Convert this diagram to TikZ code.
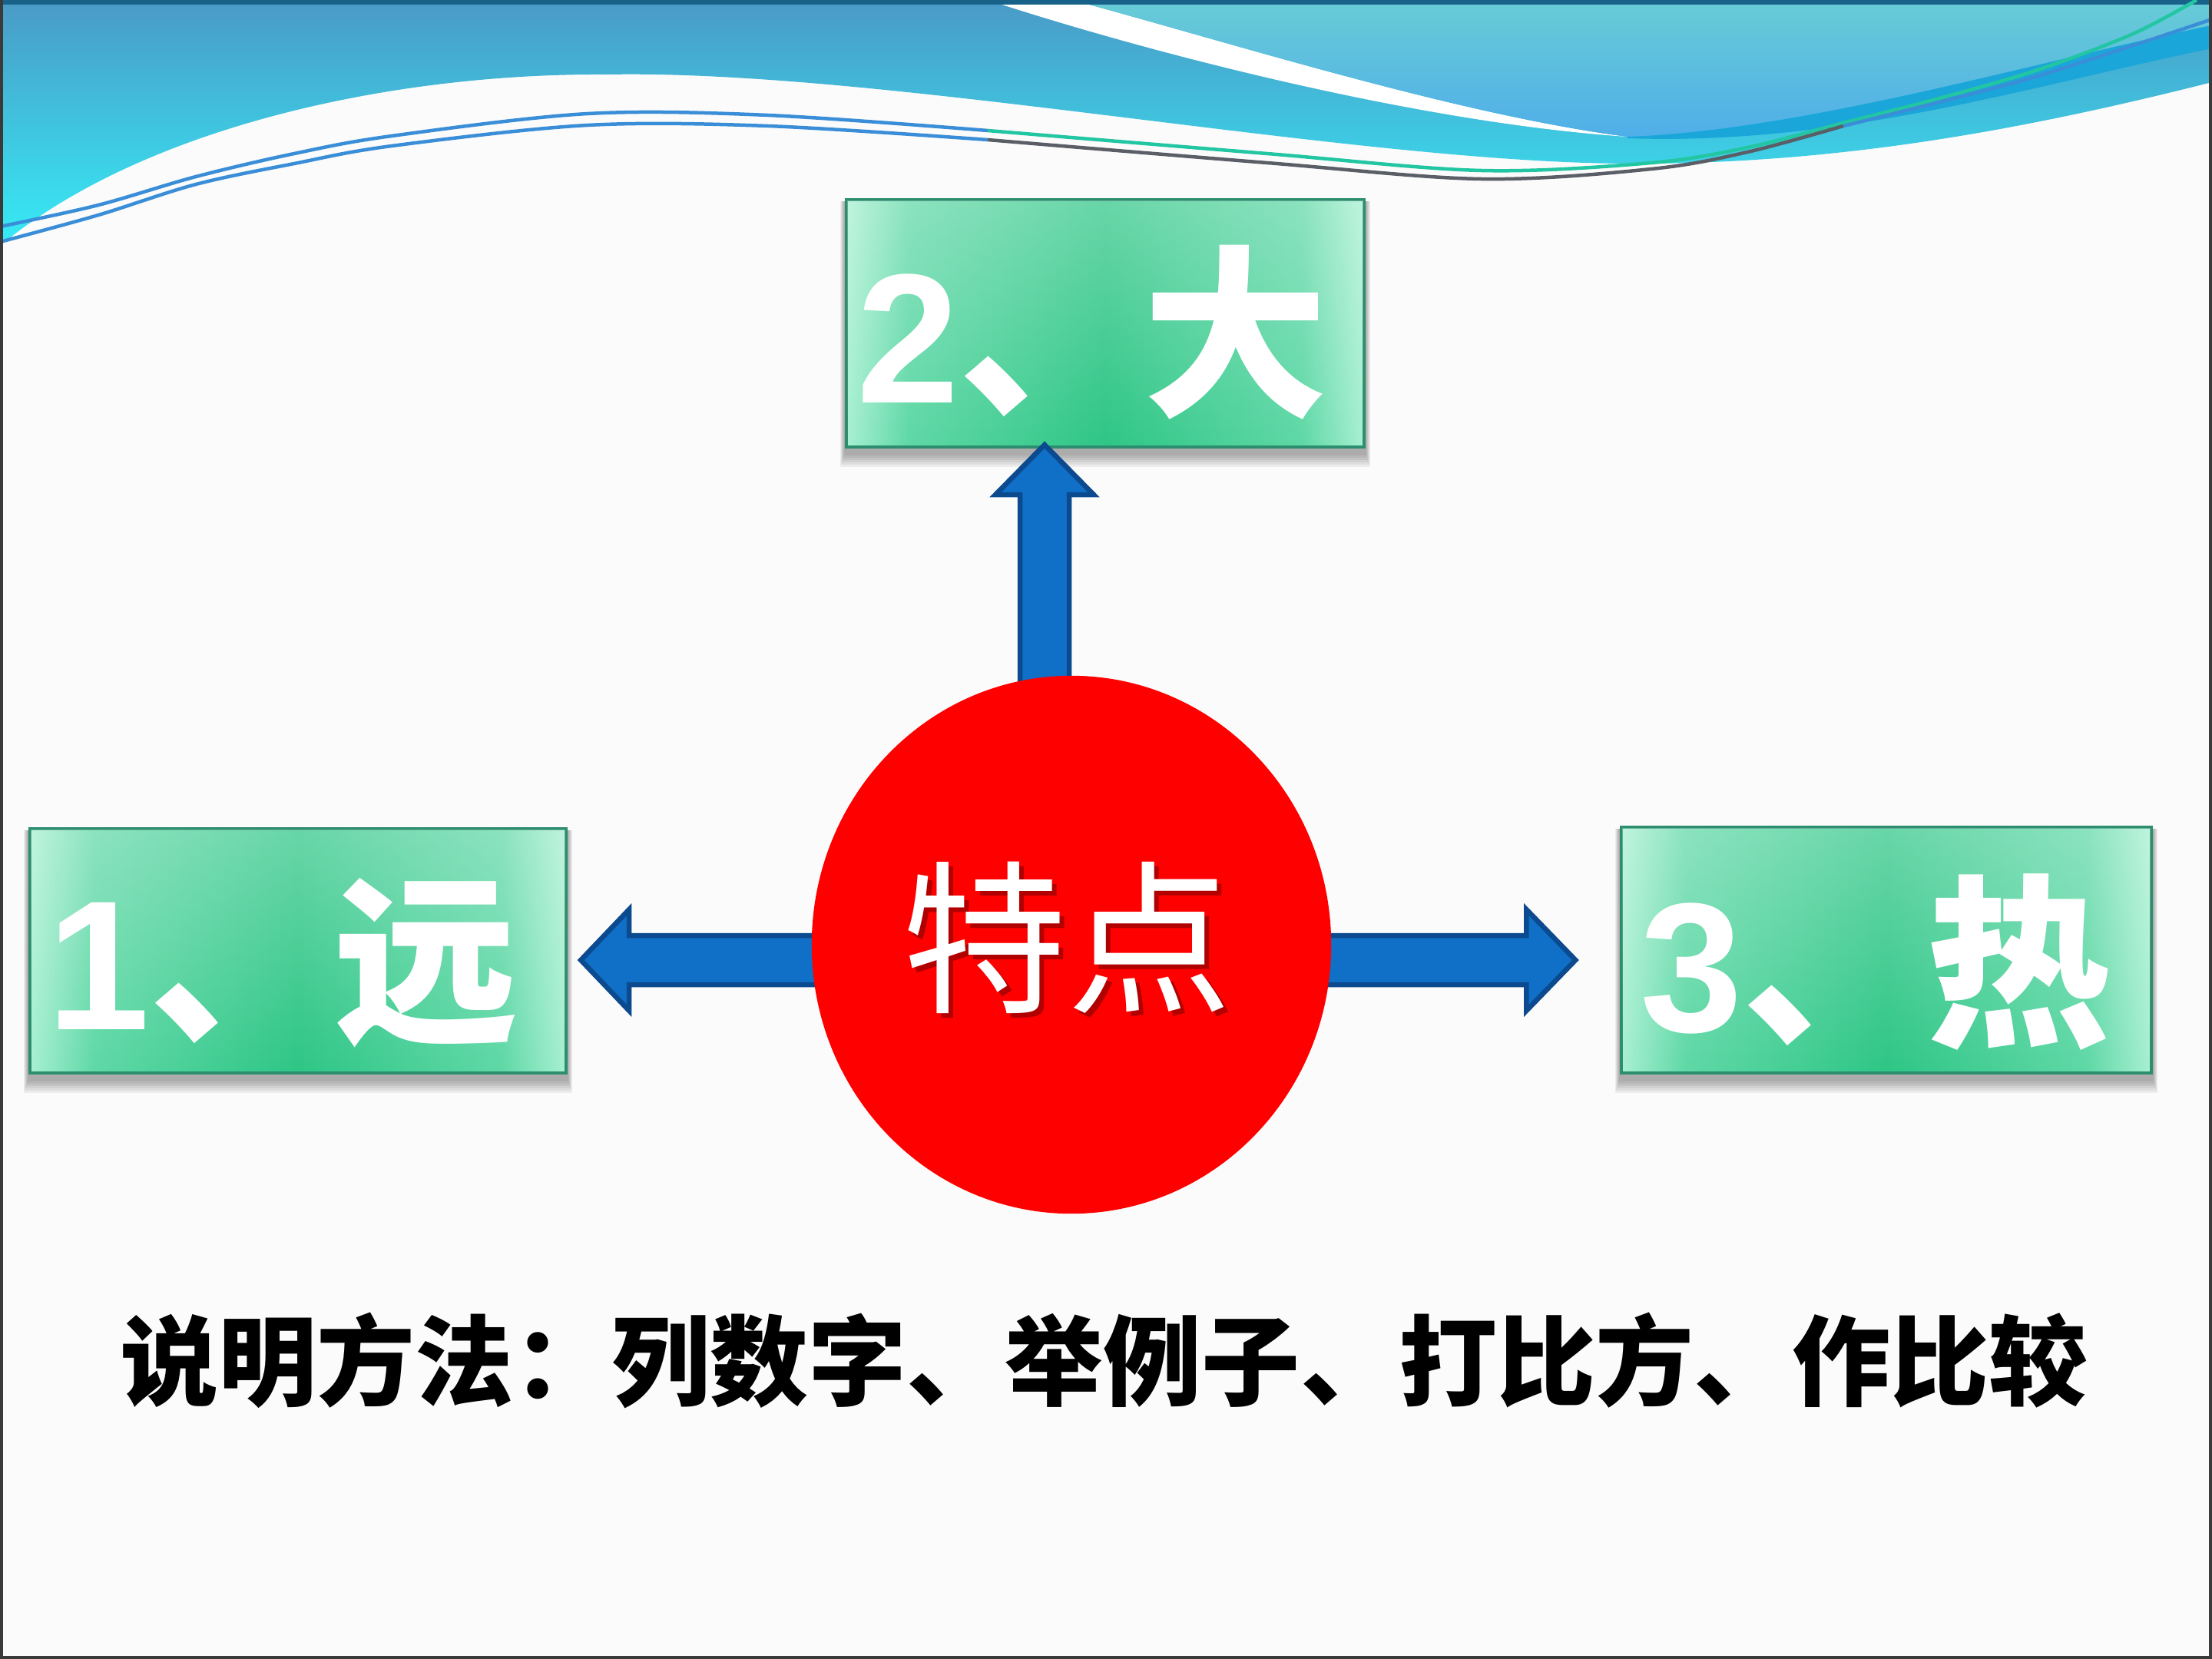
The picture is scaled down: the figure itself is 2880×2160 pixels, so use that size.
\documentclass[tikz,border=0pt]{standalone}
\usepackage{fontspec}
\newfontfamily\cjk{Noto Sans CJK SC}
\newfontfamily\dig{Liberation Sans}
\usetikzlibrary{calc,fadings,shapes.geometric}
\definecolor{bgc}{HTML}{FBFBFB}
\definecolor{waveT}{HTML}{4A9AC6}
\definecolor{waveB}{HTML}{36ECF6}
\definecolor{rT}{HTML}{68CCD6}
\definecolor{rB}{HTML}{50AEE8}
\definecolor{band}{HTML}{1AA6D8}
\definecolor{topstrip}{HTML}{18628A}
\definecolor{lineBlue}{HTML}{3A8ED8}
\definecolor{lineTeal}{HTML}{22C6A2}
\definecolor{lineGray}{HTML}{5A5E66}
\definecolor{boxL}{HTML}{A8F0D2}
\definecolor{boxQ}{HTML}{5FD8A6}
\definecolor{boxM}{HTML}{2EC686}
\definecolor{boxline}{HTML}{2C8E6E}
\definecolor{arrowF}{HTML}{106FC7}
\definecolor{arrowD}{HTML}{0B4A8E}
\definecolor{shadowred}{HTML}{B00000}
\definecolor{framec}{HTML}{3A3A3A}
\pgfdeclarehorizontalshading{boxsh}{100bp}{color(0bp)=(boxL); color(25bp)=(boxL); color(31bp)=(boxQ); color(50bp)=(boxM); color(69bp)=(boxQ); color(75bp)=(boxL); color(100bp)=(boxL)}
\pgfdeclarelayer{back}
\pgfdeclarelayer{bg}
\pgfdeclarelayer{boxl}
\pgfdeclarelayer{mid}
\pgfsetlayers{back,bg,boxl,mid,main}
\tikzfading[name=topglow, top color=transparent!72, bottom color=transparent!100]
\tikzset{
  greenbox/.style={draw=boxline, line width=0.04cm, shading=boxsh, inner sep=0pt},
  boxtext/.style={anchor=base, text=white, inner sep=0pt, font={\cjk\bfseries\fontsize{68.3pt}{72pt}\selectfont}},
  blockarrow/.style={fill=arrowF, draw=arrowD, line width=0.065cm, line join=miter},
  waveline/.style={line width=0.045cm},
}
\newcommand{\dg}[1]{{\dig\bfseries #1}}
\begin{document}
\begin{tikzpicture}[x=0.01cm,y=-0.01cm]
\useasboundingbox (0,0) rectangle (2880,2160);
\begin{pgfonlayer}{back}
\fill[bgc] (0,0) rectangle (2880,2160);
% big wave region
\shade[top color=waveT, bottom color=waveB] (0,0) -- (2880,0) -- (2880,107)
  .. controls (2650,165) and (2400,215) .. (2112,213)
  .. controls (1750,210) and (1150,90) .. (790,97)
  .. controls (500,95) and (180,170) .. (0,320) -- cycle;
% white sliver
\fill[white] (1286,0) .. controls (1500,70) and (1850,160) .. (2119,178)
  .. controls (1900,150) and (1600,55) .. (1396,0) -- cycle;
% right region
\shade[top color=rT, bottom color=rB] (1396,0) .. controls (1600,55) and (1900,150) .. (2119,178)
  .. controls (2350,170) and (2650,80) .. (2880,33) -- (2880,0) -- cycle;
% dark band
\fill[band] (2119,178) .. controls (2350,170) and (2650,80) .. (2880,33) -- (2880,63)
  .. controls (2650,110) and (2400,190) .. (2119,180) -- cycle;
\fill[topstrip] (0,0) rectangle (2880,6);
% thin lines
\draw[waveline, lineBlue] plot[smooth, tension=0.55] coordinates {(0,295) (128,267) (255,230) (383,200) (510,177) (765,148) (1000,150) (1286,170)};
\draw[waveline, lineTeal] plot[smooth, tension=0.55] coordinates {(1286,170) (1650,200) (1929,222) (2150,212) (2275,192) (2400,160) (2525,128) (2650,92) (2775,45) (2860,0)};
\draw[waveline, lineBlue] plot[smooth, tension=0.55] coordinates {(0,315) (128,280) (255,240) (383,213) (510,190) (765,163) (1000,164) (1286,182)};
\draw[waveline, lineGray] plot[smooth, tension=0.55] coordinates {(1286,182) (1650,212) (1929,233) (2150,220) (2275,198) (2400,164)};
\draw[waveline, lineBlue] plot[smooth, tension=0.55] coordinates {(2400,164) (2525,133) (2650,100) (2775,60) (2880,25)};
\draw[framec, line width=0.04cm] (2,0) -- (2,2158) -- (2878,2158) -- (2878,0);
\end{pgfonlayer}

% boxes
\begin{pgfonlayer}{boxl}
\node[greenbox, minimum width=6.98cm, minimum height=3.18cm] (b1) at (388,1238) {};
\node[greenbox, minimum width=6.74cm, minimum height=3.22cm] (b2) at (1439,421) {};
\node[greenbox, minimum width=6.89cm, minimum height=3.19cm] (b3) at (2456,1237) {};
\foreach \b in {b1,b2,b3}{
  \fill[white, path fading=topglow] ($(\b.north west)+(3,3)$) rectangle ($(\b.south east)+(-3,-3)$);
}
\node[boxtext] (t1) at (368,1340) {\dg{1}、远};
\node[boxtext] (t2) at (1422,524) {\dg{2}、大};
\node[boxtext] (t3) at (2442,1343) {\dg{3}、热};
\end{pgfonlayer}

\begin{pgfonlayer}{bg}
\foreach \b in {b1,b2,b3}{
  \foreach \k in {1,...,6}{
    \fill[black, opacity=0.06] ($(\b.north west)+(-\k,4)$) rectangle ($(\b.south east)+(\k,6+3*\k)$);
  }
}
\end{pgfonlayer}

% centre circle
\node[ellipse, fill=red, minimum width=6.76cm, minimum height=7.0cm, inner sep=0pt] (c) at (1395,1230) {};
\node[anchor=base, text=white, inner sep=0pt, font={\cjk\fontsize{61pt}{64pt}\selectfont}] (tc) at (1389,1302)
  {\makebox[0pt][l]{\kern0.06cm\raisebox{-0.06cm}{\color{shadowred}特点}}特点};

% arrows
\begin{pgfonlayer}{mid}
\coordinate (uA) at ($(c.north)+(-35,20)$);
\coordinate (uT) at ($(b2.south)+(-79,-5)$);
\draw[blockarrow] ($(uA)+(-32,0)$) -- ($(uT)+(-32,65)$) -- ($(uT)+(-64,65)$) -- (uT)
  -- ($(uT)+(64,65)$) -- ($(uT)+(32,65)$) -- ($(uA)+(32,0)$) -- cycle;
\coordinate (lA) at ($(c.west)+(20,20)$);
\coordinate (lT) at ($(b1.east)+(17,12)$);
\draw[blockarrow] ($(lA)+(0,-32)$) -- ($(lT)+(63,-32)$) -- ($(lT)+(63,-66)$) -- (lT)
  -- ($(lT)+(63,66)$) -- ($(lT)+(63,32)$) -- ($(lA)+(0,32)$) -- cycle;
\coordinate (rA) at ($(c.east)+(-20,20)$);
\coordinate (rT) at ($(b3.west)+(-58,13)$);
\draw[blockarrow] ($(rA)+(0,-32)$) -- ($(rT)+(-64,-32)$) -- ($(rT)+(-64,-66)$) -- (rT)
  -- ($(rT)+(-64,66)$) -- ($(rT)+(-64,32)$) -- ($(rA)+(0,32)$) -- cycle;
\end{pgfonlayer}

% bottom caption
\node[anchor=base, inner sep=0pt, font={\cjk\bfseries\fontsize{36.4pt}{40pt}\selectfont}] (cap) at (1437,1820) {说明方法：列数字、举例子、打比方、作比较};
\end{tikzpicture}
\end{document}
